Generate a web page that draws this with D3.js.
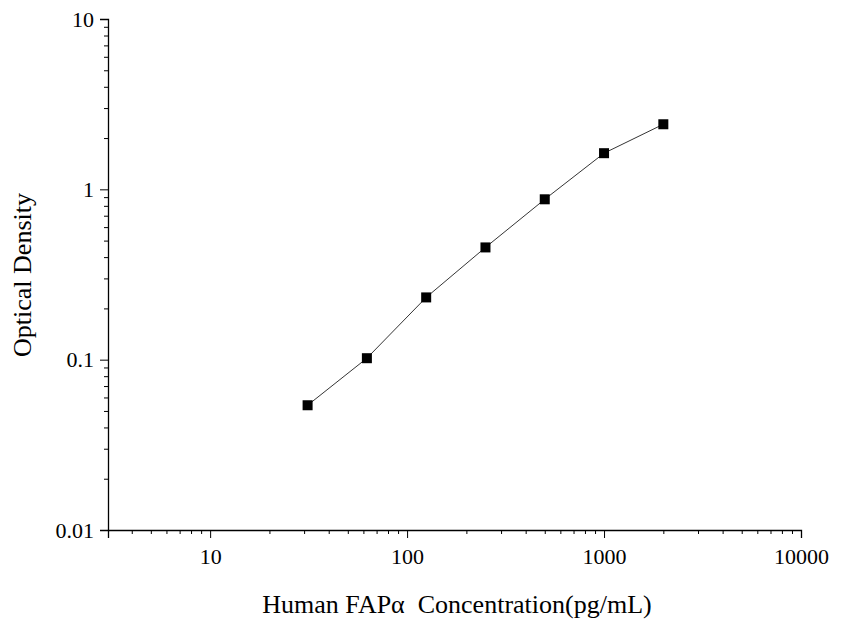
<!DOCTYPE html>
<html><head><meta charset="utf-8">
<script src="https://cdn.jsdelivr.net/npm/d3@7"></script>
<style>body{margin:0;background:#fff}text{font-family:"Liberation Serif","Times New Roman",serif}</style>
</head><body><svg id="c" width="852" height="631"></svg>
<script>
const concentrations=[31.25,62.5,125,250,500,1000,2000];
const od=[0.054,0.102,0.232,0.456,0.874,1.63,2.41];
const xTicks=[10,100,1000,10000];
const yTicks=[0.01,0.1,1,10];
const svg=d3.select("#c");
const x=d3.scaleLog().domain([3.03,10000]).range([108,801]);
const y=d3.scaleLog().domain([0.01,10]).range([530,19]);
const xMinor=[],yMinor=[];
for(let d=1;d<=1000;d*=10)for(let k=2;k<10;k++){const v=k*d;if(v>=3.03&&v<=10000)xMinor.push(v);}
for(let d=0.01;d<10;d*=10)for(let k=2;k<10;k++)yMinor.push(k*d);
svg.append("g").attr("transform","translate(0,530)")
 .call(d3.axisBottom(x).tickValues(xTicks).tickFormat(d3.format("d")).tickSize(8).tickPadding(10))
 .call(a=>a.selectAll("text").attr("font-size",22).attr("font-family","Liberation Serif"));
svg.append("g").attr("transform","translate(0,530)")
 .call(d3.axisBottom(x).tickValues(xMinor).tickFormat("").tickSize(4)).call(a=>a.select(".domain").remove());
svg.append("g").attr("transform","translate(108,0)")
 .call(d3.axisLeft(y).tickValues(yTicks).tickFormat(d=>String(+d.toPrecision(1))).tickSize(8).tickPadding(6))
 .call(a=>a.selectAll("text").attr("font-size",22).attr("font-family","Liberation Serif"));
svg.append("g").attr("transform","translate(108,0)")
 .call(d3.axisLeft(y).tickValues(yMinor).tickFormat("").tickSize(4)).call(a=>a.select(".domain").remove());
svg.selectAll(".domain").attr("stroke-width",1.3);
svg.append("path").datum(concentrations.map((c,i)=>[c,od[i]]))
 .attr("fill","none").attr("stroke","#000").attr("stroke-width",0.8)
 .attr("d",d3.line().x(d=>x(d[0])).y(d=>y(d[1])));
svg.selectAll("rect.p").data(concentrations).join("rect").attr("class","p")
 .attr("x",(d)=>x(d)-5).attr("y",(d,i)=>y(od[i])-5).attr("width",10).attr("height",10).attr("fill","#000");
svg.append("text").attr("x",457).attr("y",613).attr("text-anchor","middle").attr("font-size",26).attr("xml:space","preserve").text("Human FAPα  Concentration(pg/mL)");
svg.append("text").attr("transform","translate(31,275) rotate(-90)").attr("text-anchor","middle").attr("font-size",26).text("Optical Density");
</script></body></html>
